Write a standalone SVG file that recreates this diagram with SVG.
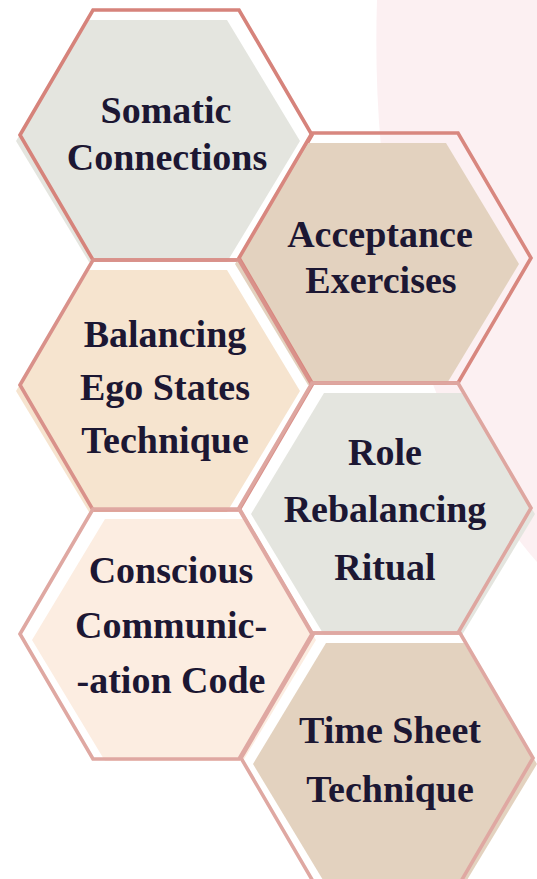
<svg xmlns="http://www.w3.org/2000/svg" xmlns:xlink="http://www.w3.org/1999/xlink" width="537" height="879" viewBox="0 0 537 879">
  <style>
    .outline { fill: none; stroke-width: 3.6; stroke-linejoin: miter; }
    .label { font-family: "Liberation Serif", "DejaVu Serif", serif; font-weight: bold; font-size: 38px; fill: #1c1733; text-anchor: middle; }
    .grey { fill: #e4e5df; }
    .tan { fill: #e3d2bf; }
    .peach { fill: #f6e4cf; }
    .cream { fill: #fcede1; }
    .s1 { stroke: #d6837b; }
    .s2 { stroke: #d8877f; }
    .s3 { stroke: #d9918a; }
    .s4 { stroke: #dea6a0; }
    .s5 { stroke: #dfa8a2; }
  </style>
  <defs>
    <!-- outline hexagon, centred on the origin -->
    <polygon id="hex" points="-146,0 -73,-125 73,-125 146,0 73,125 -73,125"/>
    <!-- slightly smaller tinted body, drawn offset from the outline -->
    <polygon id="hexBody" points="-142,0 -69,-121 69,-121 142,0 69,121 -69,121"/>
  </defs>

  <!-- soft pink backdrop on the right -->
  <path d="M377,0 C371,190 405,410 537,562 L537,0 Z" fill="#fcf0f2"/>

  <g id="somatic-connections">
    <use xlink:href="#hexBody" class="grey" x="158" y="141"/>
    <use xlink:href="#hex" class="outline s1" x="166" y="135"/>
    <text class="label" x="166" y="123">Somatic</text>
    <text class="label" x="167" y="170">Connections</text>
  </g>

  <g id="acceptance-exercises">
    <use xlink:href="#hexBody" class="tan" x="377" y="264"/>
    <use xlink:href="#hex" class="outline s2" x="385" y="258"/>
    <text class="label" x="380" y="247">Acceptance</text>
    <text class="label" x="381" y="293">Exercises</text>
  </g>

  <g id="balancing-ego-states">
    <use xlink:href="#hexBody" class="peach" x="158" y="391"/>
    <use xlink:href="#hex" class="outline s3" x="166" y="385"/>
    <text class="label" x="165" y="347">Balancing</text>
    <text class="label" x="165" y="400">Ego States</text>
    <text class="label" x="165" y="453">Technique</text>
  </g>

  <g id="role-rebalancing">
    <use xlink:href="#hexBody" class="grey" x="393" y="514"/>
    <use xlink:href="#hex" class="outline s4" x="385" y="508"/>
    <text class="label" x="385" y="465">Role</text>
    <text class="label" x="385" y="522">Rebalancing</text>
    <text class="label" x="385" y="580">Ritual</text>
  </g>

  <g id="conscious-communication">
    <use xlink:href="#hexBody" class="cream" x="174" y="640"/>
    <use xlink:href="#hex" class="outline s5" x="166" y="634"/>
    <text class="label" x="171" y="583">Conscious</text>
    <text class="label" x="171" y="638">Communic-</text>
    <text class="label" x="171" y="693">-ation Code</text>
  </g>

  <g id="time-sheet">
    <use xlink:href="#hexBody" class="tan" x="395" y="764"/>
    <use xlink:href="#hex" class="outline s5" x="387" y="758"/>
    <text class="label" x="390" y="743">Time Sheet</text>
    <text class="label" x="390" y="802">Technique</text>
  </g>

  <!-- the hexagons tile edge to edge; there are no separate connectors -->
  <g id="connectors"/>
</svg>
